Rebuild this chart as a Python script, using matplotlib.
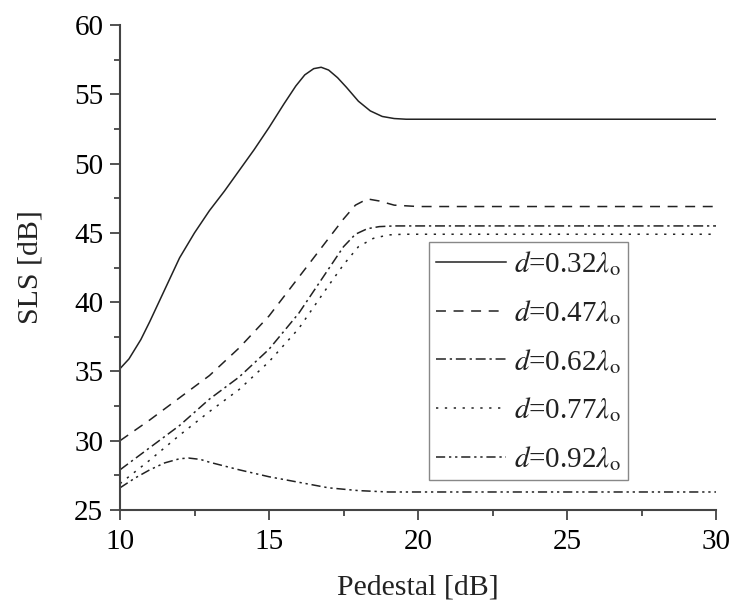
import matplotlib
matplotlib.use('Agg')
import matplotlib.pyplot as plt
from matplotlib.ticker import MultipleLocator

plt.rcParams['font.family'] = ['Liberation Serif', 'DejaVu Serif']
plt.rcParams['mathtext.fontset'] = 'stix'
plt.rcParams['font.size'] = 21

# series (pedestal dB -> SLS dB)
x_032 = [10, 10.3, 10.7, 11, 11.5, 12, 12.5, 13, 13.5, 14, 14.5, 15, 15.5, 15.9, 16.2, 16.5, 16.75, 17, 17.3, 17.6, 18, 18.4, 18.8, 19.2, 19.6, 20, 30]
y_032 = [35.2, 35.9, 37.3, 38.6, 40.9, 43.2, 45.0, 46.6, 48.0, 49.5, 51.0, 52.6, 54.3, 55.6, 56.4, 56.85, 56.95, 56.75, 56.2, 55.5, 54.5, 53.8, 53.4, 53.25, 53.2, 53.2, 53.2]

x_047 = [10, 11, 12, 13, 14, 15, 16, 17, 17.5, 17.9, 18.3, 18.7, 19.2, 20, 30]
y_047 = [30.0, 31.5, 33.1, 34.7, 36.7, 39.0, 41.8, 44.6, 46.0, 47.0, 47.45, 47.3, 47.0, 46.9, 46.9]

x_062 = [10, 11, 12, 13, 14, 15, 16, 17, 17.5, 17.9, 18.3, 18.7, 19.2, 30]
y_062 = [27.9, 29.5, 31.1, 33.0, 34.6, 36.6, 39.2, 42.4, 44.0, 44.9, 45.3, 45.45, 45.5, 45.5]

x_077 = [10, 11, 12, 13, 14, 15, 16, 17, 17.5, 18, 18.5, 19, 19.5, 30]
y_077 = [26.9, 28.6, 30.4, 32.1, 33.7, 35.7, 38.1, 41.2, 42.7, 44.0, 44.6, 44.85, 44.9, 44.9]

x_092 = [10, 10.5, 11, 11.5, 12, 12.3, 12.7, 13, 14, 15, 16, 17, 18, 19, 20, 30]
y_092 = [26.6, 27.3, 27.9, 28.4, 28.7, 28.75, 28.65, 28.45, 27.9, 27.4, 27.0, 26.6, 26.4, 26.3, 26.3, 26.3]

labels = ['0.32', '0.47', '0.62', '0.77', '0.92']

col = '#222222'
fig = plt.figure(figsize=(7.32, 6.06), dpi=100)
ax = fig.add_axes([120/732, 1-510/606, 596/732, 485/606])

series = [(x_032, y_032, '-'),
          (x_047, y_047, (0, (6.5, 5))),
          (x_062, y_062, (0, (6.5, 2.5, 1.5, 2.5))),
          (x_077, y_077, (0, (1.5, 4.3))),
          (x_092, y_092, (0, (6, 2.5, 1.5, 2.5, 1.5, 2.5)))]

for (xs, ys, ls), lab in zip(series, labels):
    ax.plot(xs, ys, color=col, lw=1.1, linestyle=ls,
            label=r'$d$=' + lab + r'$\lambda_{\rm o}$')

ax.set_xlim(10, 30)
ax.set_ylim(25, 60)
ax.xaxis.set_major_locator(MultipleLocator(5))
ax.xaxis.set_minor_locator(MultipleLocator(2.5))
ax.yaxis.set_major_locator(MultipleLocator(5))
ax.yaxis.set_minor_locator(MultipleLocator(2.5))

for s in ['top', 'right']:
    ax.spines[s].set_visible(False)
for s in ['left', 'bottom']:
    ax.spines[s].set_color('#444444')
    ax.spines[s].set_linewidth(1.5)

ax.tick_params(which='major', direction='out', length=7, width=1.3, color='#444444', labelsize=21, pad=7)
ax.tick_params(which='minor', direction='out', length=4, width=1.3, color='#444444')
ax.tick_params(axis='y', which='major', pad=5)

ax.set_xlabel('Pedestal [dB]', fontsize=21.5, labelpad=14, color='#222222')
ax.set_ylabel('SLS [dB]', fontsize=21.5, labelpad=22, color='#222222')

leg = ax.legend(loc='upper left', bbox_to_anchor=(429/732, 1-242/606),
                bbox_transform=fig.transFigure, borderaxespad=0,
                fancybox=False, framealpha=1, edgecolor='#888888',
                fontsize=21, handlelength=2.4, handletextpad=0.25,
                labelspacing=0.68, borderpad=0.25)
leg.get_frame().set_linewidth(1.0)
for t in leg.get_texts():
    t.set_color('#222222')

fig.savefig('out.png', dpi=100)
